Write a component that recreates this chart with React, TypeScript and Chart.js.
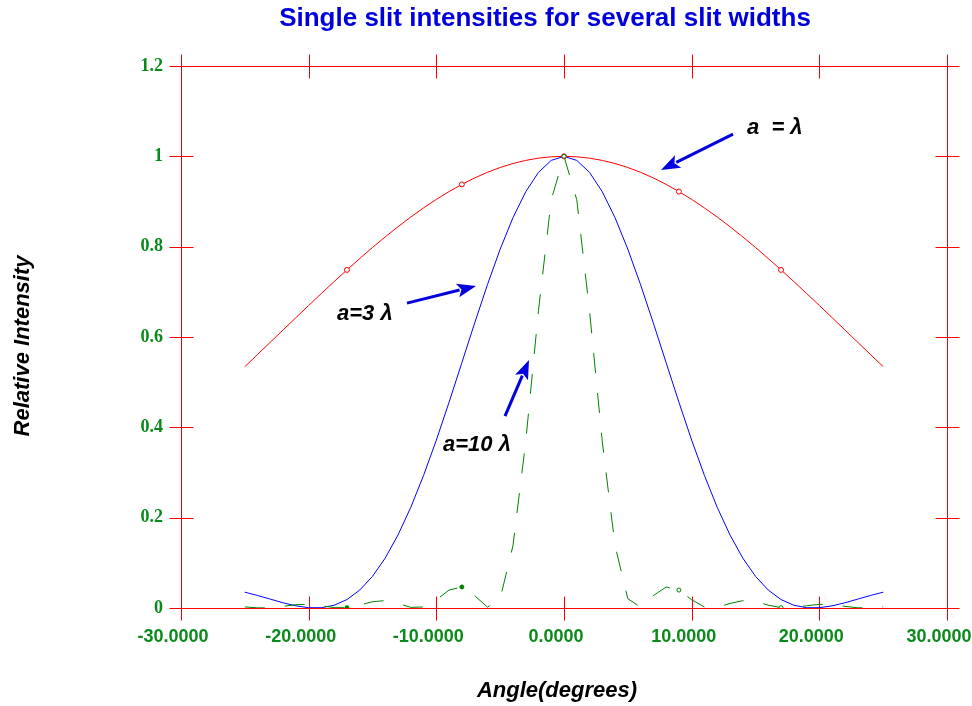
import React, { useEffect, useRef } from 'react';
import { Chart, registerables } from 'chart.js';

Chart.register(...registerables);

// Angles (degrees)
const angles = [
  -25, -24, -23, -22, -21, -20, -19, -18, -17, -16, -15, -14, -13, -12, -11, -10, -9, -8, -7, -6, -5, -4, -3, -2, -1,
  0,
  1, 2, 3, 4, 5, 6, 7, 8, 9, 10, 11, 12, 13, 14, 15, 16, 17, 18, 19, 20, 21, 22, 23, 24, 25,
];

// a = lambda
const redValues = [
  0.5344, 0.5614, 0.5885, 0.6157, 0.6428, 0.6698, 0.6965, 0.7228, 0.7486, 0.7738, 0.7982, 0.8217, 0.8442, 0.8656, 0.8858, 0.9047, 0.9220, 0.9379, 0.9521, 0.9646, 0.9753, 0.9841, 0.9910, 0.9960, 0.9990,
  1.0,
  0.9990, 0.9960, 0.9910, 0.9841, 0.9753, 0.9646, 0.9521, 0.9379, 0.9220, 0.9047, 0.8858, 0.8656, 0.8442, 0.8217, 0.7982, 0.7738, 0.7486, 0.7228, 0.6965, 0.6698, 0.6428, 0.6157, 0.5885, 0.5614, 0.5344,
];

// a = 3 lambda
const blueValues = [
  0.0350, 0.0277, 0.0196, 0.0115, 0.0048, 0.0006, 0.0006, 0.0061, 0.0187, 0.0397, 0.0701, 0.1108, 0.1618, 0.2230, 0.2935, 0.3717, 0.4558, 0.5431, 0.6307, 0.7156, 0.7944, 0.8640, 0.9215, 0.9645, 0.9910,
  1.0,
  0.9910, 0.9645, 0.9215, 0.8640, 0.7944, 0.7156, 0.6307, 0.5431, 0.4558, 0.3717, 0.2935, 0.2230, 0.1618, 0.1108, 0.0701, 0.0397, 0.0187, 0.0061, 0.0006, 0.0006, 0.0048, 0.0115, 0.0196, 0.0277, 0.0350,
];

// a = 10 lambda
const greenValues = [
  0.0024, 0.0003, 0.0005, 0.0037, 0.0074, 0.0081, 0.0050, 0.0008, 0.0007, 0.0064, 0.0140, 0.0162, 0.0100, 0.0014, 0.0023, 0.0182, 0.0397, 0.0465, 0.0274, 0.0019, 0.0206, 0.1378, 0.3679, 0.6583, 0.9037,
  1.0,
  0.9037, 0.6583, 0.3679, 0.1378, 0.0206, 0.0019, 0.0274, 0.0465, 0.0397, 0.0182, 0.0023, 0.0014, 0.0100, 0.0162, 0.0140, 0.0064, 0.0007, 0.0008, 0.0050, 0.0081, 0.0074, 0.0037, 0.0005, 0.0003, 0.0024,
];

// angles at which markers are drawn
const markerAngles = [-17, -8, 0, 9, 17];

const xTickValues = [-30, -20, -10, 0, 10, 20, 30];
const yTickValues = [0, 0.2, 0.4, 0.6, 0.8, 1, 1.2];

const titleText = 'Single slit intensities for several slit widths';
const xTitle = 'Angle(degrees)';
const yTitle = 'Relative Intensity';

// annotations: text anchor (left, baseline) and arrow tail -> tip, in data units
const labelTexts = ['a  = \u03bb', 'a=3 \u03bb', 'a=10 \u03bb'];
const labelPos = [
  [14.33, 1.049],
  [-17.78, 0.638],
  [-9.48, 0.348],
];
const arrowTail = [
  [13.24, 1.049],
  [-12.3, 0.675],
  [-4.62, 0.425],
];
const arrowTip = [
  [7.6, 0.97],
  [-6.89, 0.713],
  [-2.74, 0.549],
];

const RED = '#ff0000';
const BLUE = '#0000ff';
const GREEN = '#008000';
const LABEL_GREEN = '#0a8a1a';
const TITLE_BLUE = '#0000dd';

const framePlugin = {
  id: 'frame',
  beforeDatasetsDraw(chart: any) {
    const { ctx, chartArea } = chart;
    const xs = chart.scales.x;
    const ys = chart.scales.y;
    const L = Math.round(chartArea.left) + 0.5;
    const R = Math.round(chartArea.right) + 0.5;
    const T = Math.round(chartArea.top) + 0.5;
    const B = Math.round(chartArea.bottom) + 0.5;
    ctx.save();
    ctx.strokeStyle = RED;
    ctx.lineWidth = 1;
    ctx.beginPath();
    ctx.rect(L, T, R - L, B - T);
    for (const v of xTickValues) {
      const px = Math.round(xs.getPixelForValue(v)) + 0.5;
      ctx.moveTo(px, B - 12);
      ctx.lineTo(px, B + 12);
      ctx.moveTo(px, T - 12);
      ctx.lineTo(px, T + 12);
    }
    for (const v of yTickValues) {
      const py = Math.round(ys.getPixelForValue(v)) + 0.5;
      ctx.moveTo(L - 12, py);
      ctx.lineTo(L + 12, py);
      ctx.moveTo(R - 12, py);
      ctx.lineTo(R + 12, py);
    }
    ctx.stroke();
    ctx.restore();
  },
};

function drawArrow(ctx: any, x1: number, y1: number, x2: number, y2: number) {
  const ang = Math.atan2(y2 - y1, x2 - x1);
  const headLen = 19;
  const headHalf = 7;
  const bx = x2 - headLen * Math.cos(ang);
  const by = y2 - headLen * Math.sin(ang);
  ctx.beginPath();
  ctx.moveTo(x1, y1);
  ctx.lineTo(bx + 2 * Math.cos(ang), by + 2 * Math.sin(ang));
  ctx.lineWidth = 3;
  ctx.strokeStyle = '#0000e0';
  ctx.stroke();
  ctx.beginPath();
  ctx.moveTo(x2, y2);
  ctx.lineTo(bx + headHalf * Math.sin(ang), by - headHalf * Math.cos(ang));
  ctx.lineTo(bx + 4 * Math.cos(ang), by + 4 * Math.sin(ang));
  ctx.lineTo(bx - headHalf * Math.sin(ang), by + headHalf * Math.cos(ang));
  ctx.closePath();
  ctx.fillStyle = '#0000e0';
  ctx.fill();
}

const textPlugin = {
  id: 'texts',
  afterDraw(chart: any) {
    const { ctx } = chart;
    const xs = chart.scales.x;
    const ys = chart.scales.y;
    ctx.save();
    // title
    ctx.fillStyle = TITLE_BLUE;
    ctx.font = 'bold 26px "Liberation Sans", Arial, sans-serif';
    ctx.textAlign = 'center';
    ctx.textBaseline = 'alphabetic';
    ctx.fillText(titleText, 545, 26);
    // x title
    ctx.fillStyle = '#000';
    ctx.font = 'italic bold 22px "Liberation Sans", Arial, sans-serif';
    ctx.fillText(xTitle, 557, 697);
    // y title
    ctx.save();
    ctx.translate(29, 346);
    ctx.rotate(-Math.PI / 2);
    ctx.fillText(yTitle, 0, 0);
    ctx.restore();
    // annotations
    ctx.textAlign = 'left';
    for (let i = 0; i < labelTexts.length; i++) {
      ctx.fillStyle = '#000';
      ctx.font = 'italic bold 22px "Liberation Sans", Arial, sans-serif';
      ctx.fillText(labelTexts[i], xs.getPixelForValue(labelPos[i][0]), ys.getPixelForValue(labelPos[i][1]));
      drawArrow(
        ctx,
        xs.getPixelForValue(arrowTail[i][0]),
        ys.getPixelForValue(arrowTail[i][1]),
        xs.getPixelForValue(arrowTip[i][0]),
        ys.getPixelForValue(arrowTip[i][1])
      );
    }
    ctx.restore();
  },
};

export default function App() {
  const canvasRef = useRef<HTMLCanvasElement | null>(null);

  useEffect(() => {
    const canvas = canvasRef.current;
    if (!canvas) return;
    const pts = (vals: number[]) => angles.map((a, i) => ({ x: a, y: vals[i] }));
    const markerRadius = (r: number) => angles.map((a) => (markerAngles.includes(a) ? r : 0));

    const chart = new Chart(canvas, {
      type: 'line',
      data: {
        datasets: [
          {
            label: 'a=10 lambda',
            data: pts(greenValues),
            borderColor: GREEN,
            borderWidth: 1,
            borderDash: [20, 20],
            pointRadius: markerRadius(2),
            pointBorderColor: GREEN,
            pointBackgroundColor: angles.map((a) => (a < 0 ? GREEN : '#ffffff')),
            pointBorderWidth: 1,
            tension: 0,
            fill: false,
          },
          {
            label: 'a = lambda',
            data: pts(redValues),
            borderColor: RED,
            borderWidth: 1,
            pointRadius: markerRadius(2.5),
            pointBorderColor: RED,
            pointBackgroundColor: '#ffffff',
            pointBorderWidth: 1,
            tension: 0,
            fill: false,
          },
          {
            label: 'a=3 lambda',
            data: pts(blueValues),
            borderColor: BLUE,
            borderWidth: 1,
            pointRadius: 0,
            tension: 0,
            fill: false,
          },
        ],
      },
      options: {
        responsive: false,
        animation: false,
        devicePixelRatio: 1,
        layout: { padding: { top: 66, right: 25, bottom: 0, left: 0 } },
        plugins: {
          legend: { display: false },
          title: { display: false },
          tooltip: { enabled: false },
        },
        scales: {
          x: {
            type: 'linear',
            min: -30,
            max: 30,
            grid: { display: false, drawTicks: false },
            border: { display: false },
            ticks: {
              stepSize: 10,
              autoSkip: false,
              maxRotation: 0,
              padding: 18,
              labelOffset: -8,
              color: LABEL_GREEN,
              font: { family: '"Liberation Sans", Arial, sans-serif', weight: 'bold', size: 18 },
              callback: (v: any) => Number(v).toFixed(4),
            },
            afterFit: (scale: any) => {
              scale.height = 98;
              scale.paddingLeft = 0;
              scale.paddingRight = 0;
            },
          },
          y: {
            type: 'linear',
            min: 0,
            max: 1.2,
            grid: { display: false, drawTicks: false },
            border: { display: false },
            ticks: {
              stepSize: 0.2,
              autoSkip: false,
              padding: 18,
              color: LABEL_GREEN,
              font: { family: '"Liberation Serif", "Times New Roman", serif', weight: 'bold', size: 18 },
              callback: (v: any) => String(Math.round(Number(v) * 10) / 10),
            },
            afterFit: (scale: any) => {
              scale.width = 181;
              scale.paddingTop = 0;
              scale.paddingBottom = 0;
            },
          },
        },
      } as any,
      plugins: [framePlugin, textPlugin],
    });
    return () => chart.destroy();
  }, []);

  return (
    <div style={{ position: 'fixed', left: 0, top: 0, width: 972, height: 706, background: '#fff' }}>
      <canvas ref={canvasRef} width={972} height={706} style={{ display: 'block' }} />
    </div>
  );
}
